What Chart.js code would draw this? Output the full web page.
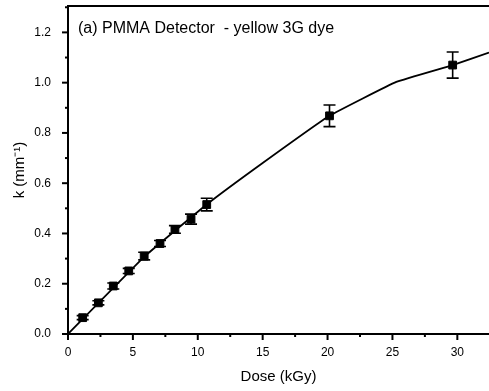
<!DOCTYPE html>
<html>
<head>
<meta charset="utf-8">
<script src="https://cdn.jsdelivr.net/npm/chart.js@4"></script>
<style>
  html, body { margin: 0; padding: 0; background: #fff; }
  #wrap { width: 489px; height: 391px; }
</style>
</head>
<body>
<div id="wrap"><canvas id="myChart"></canvas></div>
<script>
// measured points (Dose kGy, k mm^-1, error)
const dose = [1.13, 2.34, 3.49, 4.68, 5.87, 7.09, 8.24, 9.48, 10.69, 20.15, 29.64];
const kVal = [0.065, 0.124, 0.191, 0.251, 0.310, 0.360, 0.416, 0.457, 0.515, 0.868, 1.070];
const kErr = [0.008, 0.008, 0.012, 0.010, 0.015, 0.012, 0.015, 0.020, 0.025, 0.043, 0.052];

// fitted curve
const fitX = [0, 5.87, 10.69, 15, 20.15, 25.3, 29.64, 32.44];
const fitY = [0, 0.307, 0.515, 0.68, 0.868, 1.003, 1.070, 1.12];

const xTicks = [0, 5, 10, 15, 20, 25, 30];
const yTicks = [0.0, 0.2, 0.4, 0.6, 0.8, 1.0, 1.2];

const ctx = document.getElementById('myChart');
const FONT = '"Liberation Sans", Arial, sans-serif';

const extras = {
  id: 'extras',
  afterDatasetsDraw(chart) {
    const c = chart.ctx;
    const x = chart.scales.x, y = chart.scales.y;
    const a = chart.chartArea;
    c.save();
    c.strokeStyle = '#000';
    // error bars
    c.lineWidth = 1.6;
    dose.forEach((d, i) => {
      const px = x.getPixelForValue(d);
      const top = y.getPixelForValue(kVal[i] + kErr[i]);
      const bot = y.getPixelForValue(kVal[i] - kErr[i]);
      c.beginPath();
      c.moveTo(px, top); c.lineTo(px, bot);
      c.moveTo(px - 6, top); c.lineTo(px + 6, top);
      c.moveTo(px - 6, bot); c.lineTo(px + 6, bot);
      c.stroke();
    });
    // ticks
    c.lineWidth = 2;
    for (let v = 0; v <= 32.4; v += 2.5) {
      const px = x.getPixelForValue(v);
      const len = (Math.round(v * 10) % 50 === 0) ? 6 : 3;
      c.beginPath(); c.moveTo(px, a.bottom); c.lineTo(px, a.bottom + len); c.stroke();
    }
    for (let v = 0; v <= 1.3; v += 0.1) {
      const py = y.getPixelForValue(v);
      const len = (Math.round(v * 10) % 2 === 0) ? 6 : 3;
      c.beginPath(); c.moveTo(a.left, py); c.lineTo(a.left - len, py); c.stroke();
    }
    // top frame
    c.beginPath(); c.moveTo(a.left - 1, a.top); c.lineTo(a.right, a.top); c.stroke();
    // inner label
    c.fillStyle = '#000';
    c.font = '16px ' + FONT;
    c.textBaseline = 'middle';
    c.fillText('(a) PMMA Detector  - yellow 3G dye', 78, 29);
    c.restore();
  }
};

new Chart(ctx, {
  type: 'scatter',
  data: {
    datasets: [{
      label: 'fit',
      type: 'line',
      data: fitX.map((v, i) => ({ x: v, y: fitY[i] })),
      borderColor: '#000',
      borderWidth: 1.8,
      pointRadius: 0,
      fill: false,
      tension: 0.1
    }, {
      label: 'data',
      data: dose.map((v, i) => ({ x: v, y: kVal[i] })),
      backgroundColor: '#000',
      borderColor: '#000',
      borderWidth: 1,
      pointStyle: 'rect',
      pointRadius: 5.5
    }]
  },
  options: {
    responsive: true,
    maintainAspectRatio: false,
    animation: false,
    layout: { autoPadding: false, padding: { top: 6, right: 0, bottom: 0, left: 0 } },
    plugins: { legend: { display: false }, tooltip: { enabled: false } },
    scales: {
      x: {
        type: 'linear',
        min: 0,
        max: 32.44,
        afterFit: s => { s.height = 57; s.paddingRight = 0; },
        afterBuildTicks: s => { s.ticks = xTicks.map(v => ({ value: v })); },
        grid: { display: false },
        border: { display: true, color: '#000', width: 2 },
        ticks: {
          color: '#000',
          padding: 3,
          font: { family: FONT, size: 12 },
          callback: v => String(v)
        },
        title: {
          display: true,
          text: 'Dose (kGy)',
          color: '#000',
          font: { family: FONT, size: 15 },
          padding: { top: 5, bottom: 5 }
        }
      },
      y: {
        min: 0,
        max: 1.305,
        afterFit: s => { s.width = 68; s.paddingTop = 0; s.paddingBottom = 0; },
        afterBuildTicks: s => { s.ticks = yTicks.map(v => ({ value: v })); },
        grid: { display: false },
        border: { display: true, color: '#000', width: 2 },
        ticks: {
          color: '#000',
          padding: 9,
          font: { family: FONT, size: 12 },
          callback: v => Number(v).toFixed(1)
        },
        title: {
          display: true,
          text: 'k (mm⁻¹)',
          color: '#000',
          font: { family: FONT, size: 15 },
          padding: { top: 11, bottom: 11 }
        }
      }
    }
  },
  plugins: [extras]
});
</script>
</body>
</html>
